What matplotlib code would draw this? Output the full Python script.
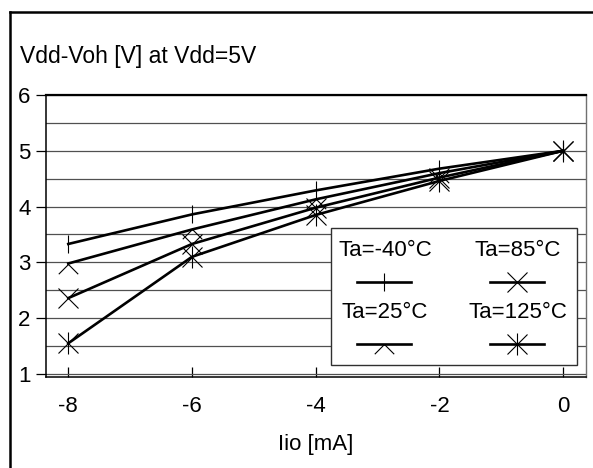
import matplotlib

matplotlib.use("Agg")
import matplotlib.pyplot as plt
from matplotlib.lines import Line2D
from matplotlib.patches import Rectangle
from matplotlib.path import Path
import numpy as np

plt.rcParams["font.family"] = ["Liberation Sans", "DejaVu Sans"]
plt.rcParams["axes.unicode_minus"] = False

# data
iio_ma = [-8, -6, -4, -2, 0]
labels = ["Ta=-40°C", "Ta=85°C", "Ta=25°C", "Ta=125°C"]
v_m40 = [3.33, 3.86, 4.29, 4.68, 5.0]
v_25 = [2.98, 3.59, 4.13, 4.60, 5.0]
v_85 = [2.36, 3.33, 3.98, 4.52, 5.0]
v_125 = [1.55, 3.10, 3.85, 4.46, 5.0]
x_ticks = [-8, -6, -4, -2, 0]
y_ticks = [1, 2, 3, 4, 5, 6]

W, H = 593, 468
FS = 16

# open "^" legs, origin at apex
LAMBDA = Path([(0, 0), (-1, -1), (0, 0), (1, -1)],
              [Path.MOVETO, Path.LINETO, Path.MOVETO, Path.LINETO])


def px(x, y):
    return x / W, 1 - y / H


def marker_set(markers, ms):
    out = []
    for m in markers:
        size = ms * 1.1 if m == "|" and len(markers) > 1 else ms
        out.append((m, size))
    return out


fig = plt.figure(figsize=(W / 100, H / 100), dpi=100)
ax = fig.add_axes([46 / W, 1 - 377 / H, (586 - 46) / W, (377 - 95) / H])

series = [
    (v_m40, ["|"], 13),
    (v_85, ["x"], 14),
    (v_25, [LAMBDA], 14),
    (v_125, ["x", "|"], 14),
]
for vals, markers, ms in series:
    ax.plot(iio_ma, vals, color="black", lw=1.9, zorder=3)
    for m, size in marker_set(markers, ms):
        ax.plot(iio_ma, vals, ls="none", marker=m, ms=size, mec="black",
                mew=0.8, mfc="none", zorder=4)

ax.set_xlim(-8.36, 0.37)
ax.set_ylim(0.946, 6.0)
ax.set_xticks(x_ticks)
ax.set_yticks(y_ticks)
ax.set_yticks(np.arange(1.5, 6.0, 1.0), minor=True)
ax.tick_params(axis="x", direction="in", length=7, width=0.9, labelsize=FS, pad=14)
ax.tick_params(axis="y", direction="out", length=7, width=0.9, labelsize=FS, pad=4)
ax.tick_params(axis="y", which="minor", length=0)
ax.grid(axis="y", which="both", color="#505050", lw=0.9, zorder=1)
for side in ["left", "bottom"]:
    ax.spines[side].set_linewidth(1.1)
ax.spines["top"].set_linewidth(1.6)
ax.spines["right"].set_color("#707070")
ax.spines["right"].set_linewidth(1.0)
ax.set_xlabel("Iio [mA]", fontsize=FS, labelpad=12)

fig.text(*px(20, 57), "Vdd-Voh [V] at Vdd=5V", fontsize=16.5, va="center", ha="left")

# outer frame (left and top edges)
fig.add_artist(Line2D([10 / W, 10 / W], [0, 1 - 12 / H], color="black", lw=1.8,
                      transform=fig.transFigure))
fig.add_artist(Line2D([10 / W, 1], [1 - 12 / H, 1 - 12 / H], color="black", lw=1.8,
                      transform=fig.transFigure))

# legend box, 2x2 with text above line samples
x0, y0 = px(331, 365)
x1, y1 = px(577, 228)
fig.add_artist(Rectangle((x0, y0), x1 - x0, y1 - y0, transform=fig.transFigure,
                         facecolor="white", edgecolor="#303030", lw=1.0, zorder=5))
cols = [(385, 357, 411), (518, 490, 544)]
rows = [(251, 282), (313, 344)]
leg_markers = [(["|"], 13), (["x"], 14), ([LAMBDA], 14), (["x", "|"], 14)]
for i, lab in enumerate(labels):
    cx, lx0, lx1 = cols[i % 2]
    ty, ly = rows[i // 2]
    fig.text(*px(cx, ty), lab, fontsize=FS, ha="center", va="center", zorder=6)
    fx0, fy = px(lx0, ly)
    fx1, _ = px(lx1, ly)
    fig.add_artist(Line2D([fx0, fx1], [fy, fy], color="black", lw=1.9,
                          transform=fig.transFigure, zorder=6))
    mks, ms = leg_markers[i]
    for m, size in marker_set(mks, ms):
        fig.add_artist(Line2D([(fx0 + fx1) / 2], [fy], ls="none", marker=m,
                              ms=size, mec="black", mew=0.8, mfc="none",
                              transform=fig.transFigure, zorder=7))

fig.savefig("out.png", dpi=100)
